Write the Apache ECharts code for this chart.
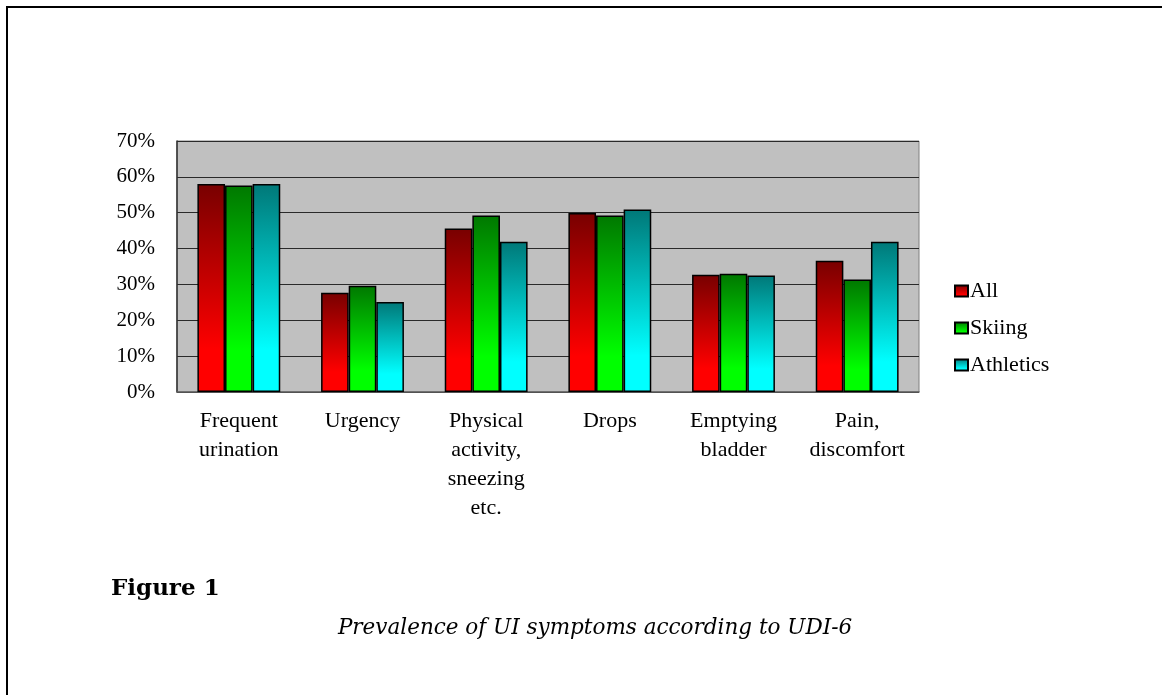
<!DOCTYPE html>
<html>
<head>
<meta charset="utf-8">
<script src="https://cdn.jsdelivr.net/npm/echarts@6/dist/echarts.min.js"></script>
<style>
html,body{margin:0;padding:0;background:#fff;}
#frame{position:absolute;left:6px;top:6px;width:1160px;height:695px;border-top:2px solid #000;border-left:2px solid #000;box-sizing:border-box;}
#chart{position:absolute;left:0;top:0;width:1162px;height:695px;}
</style>
</head>
<body>
<div id="frame"></div>
<div id="chart"></div>
<script>
const categories = ['Frequent\nurination', 'Urgency', 'Physical\nactivity,\nsneezing\netc.', 'Drops', 'Emptying\nbladder', 'Pain,\ndiscomfort'];
const seriesNames = ['All', 'Skiing', 'Athletics'];
const allValues = [58.0, 27.7, 45.6, 49.9, 32.7, 36.6];
const skiingValues = [57.6, 29.6, 49.2, 49.2, 33.0, 31.4];
const athleticsValues = [58.0, 25.1, 41.9, 50.9, 32.5, 41.9];
const yTicks = [0, 10, 20, 30, 40, 50, 60, 70];

function grad(dark, bright) {
  return new echarts.graphic.LinearGradient(0, 0, 0, 1, [
    {offset: 0, color: dark},
    {offset: 0.8, color: bright},
    {offset: 1, color: bright}
  ]);
}
const fills = [grad('#780000', '#ff0000'), grad('#007800', '#00ff00'), grad('#007878', '#00ffff')];
const data = [allValues, skiingValues, athleticsValues];
const serif = '"Liberation Serif", "Times New Roman", serif';
const capSerif = '"DejaVu Serif", serif';

const chart = echarts.init(document.getElementById('chart'));
chart.setOption({
  animation: false,
  backgroundColor: 'transparent',
  title: [
    {text: 'Figure 1', left: 106, top: 573, textStyle: {fontFamily: capSerif, fontWeight: 'bold', fontSize: 23, color: '#000'}},
    {text: 'Prevalence of UI symptoms according to UDI-6', left: 590, textAlign: 'center', top: 612,
     textStyle: {fontFamily: capSerif, fontStyle: 'italic', fontWeight: 'normal', fontSize: 21.5, color: '#000'}}
  ],
  legend: {
    orient: 'vertical', left: 949, top: 275,
    itemWidth: 13, itemHeight: 11, itemGap: 15, icon: 'rect',
    textStyle: {fontFamily: serif, fontSize: 22, color: '#000', padding: [0, 0, 0, -3]},
    data: seriesNames
  },
  grid: {left: 177, top: 141, right: 243, bottom: 303, show: true, backgroundColor: '#c0c0c0', borderColor: '#808080', borderWidth: 1},
  xAxis: {
    type: 'category', data: categories,
    axisLine: {lineStyle: {color: '#606060', width: 1.5}},
    axisTick: {show: false},
    axisLabel: {interval: 0, margin: 15, fontFamily: serif, fontSize: 22, lineHeight: 29, color: '#000'}
  },
  yAxis: {
    type: 'value', min: 0, max: 70, interval: 10,
    axisLine: {show: true, lineStyle: {color: '#303030', width: 1.5}},
    axisTick: {show: false},
    splitLine: {lineStyle: {color: '#2a2a2a', width: 1}},
    axisLabel: {margin: 22, fontFamily: serif, fontSize: 21, color: '#000', formatter: v => yTicks.includes(v) ? v + '%' : ''}
  },
  series: seriesNames.map((name, i) => ({
    name: name, type: 'bar', data: data[i],
    barGap: '0%', barCategoryGap: '33%',
    itemStyle: {color: fills[i], borderColor: '#000', borderWidth: 1.5}
  }))
});
</script>
</body>
</html>
